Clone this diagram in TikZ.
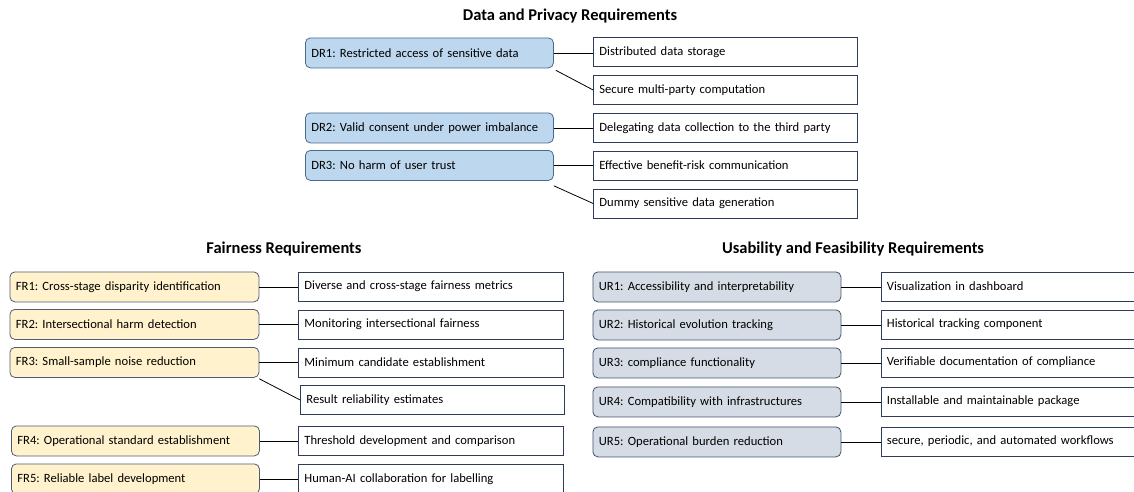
\documentclass[tikz,border=0pt]{standalone}
\usepackage{fontspec}
\setmainfont{Carlito}
\frenchspacing
\definecolor{drfill}{HTML}{BDD7EE}
\definecolor{drline}{HTML}{4A6A8C}
\definecolor{frfill}{HTML}{FFF2CC}
\definecolor{frline}{HTML}{4F5D73}
\definecolor{urfill}{HTML}{D6DCE5}
\definecolor{urline}{HTML}{44546A}
\definecolor{rline}{HTML}{2F3B5B}
\begin{document}
\begin{tikzpicture}[x=1pt,y=-1pt,
  base/.style={anchor=north west, inner xsep=6pt, inner ysep=0pt, align=left,
    font=\frenchspacing\fontsize{12.6}{14}\selectfont, line width=0.8pt},
  lbox/.style={base, draw=#1line, fill=#1fill, rounded corners=5pt, text width=236pt, minimum height=30pt},
  rbox/.style={base, draw=rline, fill=white, text width=252pt, minimum height=29pt},
  conn/.style={draw=black, line width=0.8pt},
  ttl/.style={font=\bfseries\fontsize{16.5}{19}\selectfont}]
\useasboundingbox (0,0) rectangle (1134,491);
\clip (0,0) rectangle (1134,491);
% titles
\node[ttl] (t1) at (570,16) {Data and Privacy Requirements};
\node[ttl] (t2) at (284,249) {Fairness Requirements};
\node[ttl] (t3) at (853,249) {Usability and Feasibility Requirements};
% Data
\node[lbox=dr] (DR1) at (305,37.5) {DR1: Restricted access of sensitive data};
\node[lbox=dr] (DR2) at (305,112.5) {DR2: Valid consent under power imbalance};
\node[lbox=dr] (DR3) at (305,150) {DR3: No harm of user trust};
\node[rbox] (D1) at (593,37) {Distributed data storage};
\node[rbox] (D2) at (593,75) {Secure multi-party computation};
\node[rbox] (D3) at (593,113) {Delegating data collection to the third party};
\node[rbox] (D4) at (593,150.5) {Effective benefit-risk communication};
\node[rbox] (D5) at (593,188.5) {Dummy sensitive data generation};
\draw[conn] (DR1.east) -- (DR1.east -| D1.west);
\draw[conn] ([shift={(2pt,-2pt)}]DR1.south east) -- (D2.west);
\draw[conn] (DR2.east) -- (DR2.east -| D3.west);
\draw[conn] (DR3.east) -- (DR3.east -| D4.west);
\draw[conn] ([shift={(0pt,-5pt)}]DR3.south east) -- (D5.west);
% Fairness
\node[lbox=fr, text width=237pt] (FR1) at (9.5,271.5) {FR1: Cross-stage disparity identification};
\node[lbox=fr, text width=237pt] (FR2) at (9.5,309) {FR2: Intersectional harm detection};
\node[lbox=fr, text width=237pt] (FR3) at (9.5,347) {FR3: Small-sample noise reduction};
\node[lbox=fr] (FR4) at (11,425.5) {FR4: Operational standard establishment};
\node[lbox=fr] (FR5) at (11,463.5) {FR5: Reliable label development};
\node[rbox, text width=253pt] (F1) at (298,271.5) {Diverse and cross-stage fairness metrics};
\node[rbox, text width=253pt] (F2) at (298,309.5) {Monitoring intersectional fairness};
\node[rbox, text width=253pt] (F3) at (298,347.5) {Minimum candidate establishment};
\node[rbox, text width=252pt] (F4) at (300,385) {Result reliability estimates};
\node[rbox, text width=253pt] (F5) at (298,426) {Threshold development and comparison};
\node[rbox, text width=253pt] (F6) at (298,464) {Human-AI collaboration for labelling};
\draw[conn] (FR1.east) -- (FR1.east -| F1.west);
\draw[conn] (FR2.east) -- (FR2.east -| F2.west);
\draw[conn] (FR3.east) -- (FR3.east -| F3.west);
\draw[conn] ([shift={(0pt,-1pt)}]FR3.south east) -- (F4.west);
\draw[conn] (FR4.east) -- (FR4.east -| F5.west);
\draw[conn] (FR5.east) -- (FR5.east -| F6.west);
% Usability
\node[lbox=ur] (UR1) at (592.5,271.5) {UR1: Accessibility and interpretability};
\node[lbox=ur] (UR2) at (592.5,309.5) {UR2: Historical evolution tracking};
\node[lbox=ur] (UR3) at (592.5,347.5) {UR3: compliance functionality};
\node[lbox=ur] (UR4) at (592.5,386.5) {UR4: Compatibility with infrastructures};
\node[lbox=ur] (UR5) at (592.5,426.5) {UR5: Operational burden reduction};
\node[rbox] (U1) at (880.5,271.5) {Visualization in dashboard};
\node[rbox] (U2) at (880.5,309.5) {Historical tracking component};
\node[rbox] (U3) at (880.5,347.5) {Verifiable documentation of compliance};
\node[rbox] (U4) at (880.5,386.5) {Installable and maintainable package};
\node[rbox] (U5) at (880.5,426.5) {secure, periodic, and automated workflows};
\draw[conn] (UR1.east) -- (UR1.east -| U1.west);
\draw[conn] (UR2.east) -- (UR2.east -| U2.west);
\draw[conn] (UR3.east) -- (UR3.east -| U3.west);
\draw[conn] (UR4.east) -- (UR4.east -| U4.west);
\draw[conn] (UR5.east) -- (UR5.east -| U5.west);
\end{tikzpicture}
\end{document}
